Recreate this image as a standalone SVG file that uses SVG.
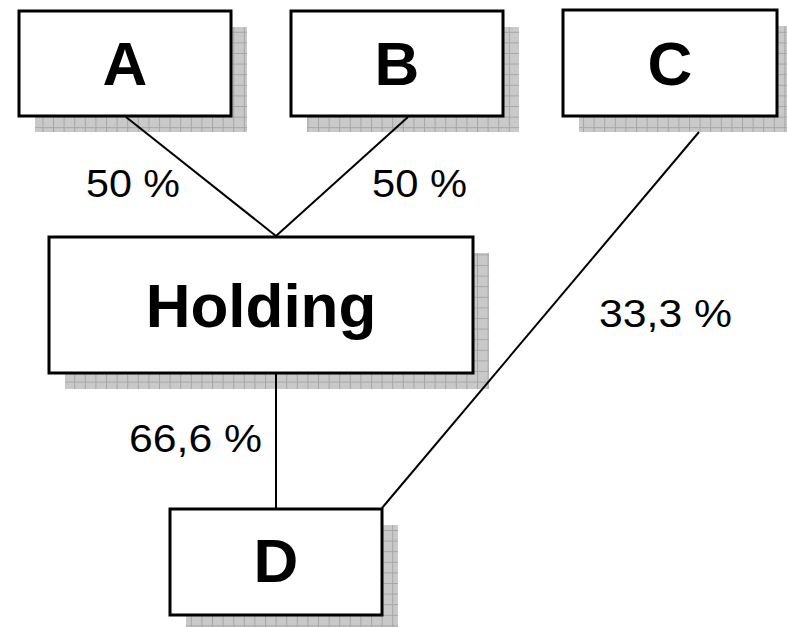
<svg xmlns="http://www.w3.org/2000/svg" width="787" height="627" viewBox="0 0 787 627">
  <defs>
    <!-- hatched grey drop shadow -->
    <pattern id="shadeGrid" patternUnits="userSpaceOnUse" x="0" y="0" width="10.6" height="10.6">
      <rect width="10.6" height="10.6" fill="#c9c9c9"/>
      <path d="M0 0.5 H10.6 M0.5 0 V10.6" stroke="#a6a6a6" stroke-width="1" fill="none"/>
    </pattern>
    <style>
      .shadow { fill: url(#shadeGrid); }
      .box { fill: #ffffff; stroke: #000000; stroke-width: 3; }
      .name { font-family: "Liberation Sans", Arial, sans-serif; font-weight: bold; font-size: 62px; fill: #000; text-anchor: middle; }
      .pct { font-family: "Liberation Sans", Arial, sans-serif; font-size: 39px; fill: #000; }
      .link { stroke: #000000; stroke-width: 2; fill: none; }
    </style>
  </defs>
  <rect width="787" height="627" fill="#ffffff"/>

  <g id="node-A">
    <rect class="shadow" x="35" y="27" width="212" height="105"/>
    <rect class="box" x="19" y="11" width="212" height="105"/>
    <text class="name" x="125" y="85">A</text>
  </g>

  <g id="node-B">
    <rect class="shadow" x="307" y="27" width="212" height="105"/>
    <rect class="box" x="291" y="11" width="212" height="105"/>
    <text class="name" x="397" y="85">B</text>
  </g>

  <g id="node-C">
    <rect class="shadow" x="579" y="26" width="214" height="106"/>
    <rect class="box" x="563" y="10" width="214" height="106"/>
    <text class="name" x="670" y="85">C</text>
  </g>

  <g id="node-Holding">
    <rect class="shadow" x="65" y="253" width="424" height="136"/>
    <rect class="box" x="49" y="237" width="424" height="136"/>
    <text class="name" x="261" y="327">Holding</text>
  </g>

  <g id="node-D">
    <rect class="shadow" x="186" y="525" width="212" height="106"/>
    <rect class="box" x="170" y="509" width="212" height="106"/>
    <text class="name" x="276" y="582">D</text>
  </g>

  <!-- connectors run over the shadows -->
  <g id="connectors">
    <line class="link" x1="126" y1="117" x2="276" y2="236"/>
    <line class="link" x1="408" y1="117" x2="276" y2="236"/>
    <line class="link" x1="699" y1="132" x2="382" y2="508"/>
    <line class="link" x1="276" y1="374" x2="276" y2="508"/>
  </g>

  <g id="labels">
    <text class="pct" x="86" y="197" textLength="94" lengthAdjust="spacingAndGlyphs">50 %</text>
    <text class="pct" x="372" y="197" textLength="95" lengthAdjust="spacingAndGlyphs">50 %</text>
    <text class="pct" x="599" y="327" textLength="133" lengthAdjust="spacingAndGlyphs">33,3 %</text>
    <text class="pct" x="129" y="452" textLength="133" lengthAdjust="spacingAndGlyphs">66,6 %</text>
  </g>
</svg>
